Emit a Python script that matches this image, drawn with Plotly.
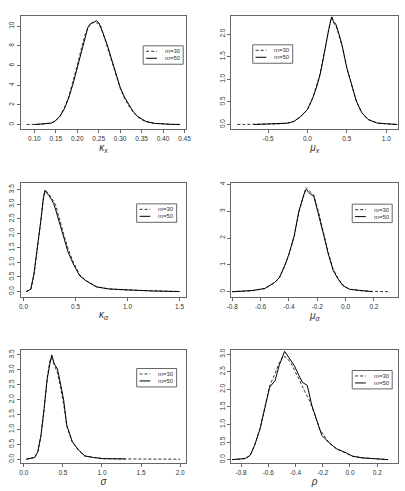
import plotly.graph_objects as go

W, H = 405, 491

# ---------------- data ----------------
labels = ["m=30", "m=50"]

x1_50 = [0.10,0.12,0.14,0.15,0.16,0.17,0.18,0.19,0.20,0.21,0.22,0.225,0.23,0.24,0.245,0.25,0.255,0.26,0.27,0.28,0.29,0.30,0.31,0.32,0.33,0.34,0.35,0.36,0.38,0.40,0.42,0.44]
y1_50 = [0.0,0.04,0.15,0.4,0.85,1.6,2.7,4.1,5.8,7.6,9.2,9.9,10.2,10.4,10.55,10.35,9.9,9.3,8.1,6.6,5.1,3.8,2.8,2.0,1.35,0.85,0.55,0.32,0.12,0.05,0.02,0.01]
x1_30 = [0.082,0.10,0.12,0.14,0.15,0.16,0.17,0.18,0.19,0.20,0.21,0.22,0.23,0.235,0.24,0.245,0.25,0.255,0.26,0.27,0.28,0.29,0.30,0.31,0.32,0.33,0.34,0.35,0.36,0.38,0.40,0.42,0.44]
y1_30 = [0.0,0.01,0.05,0.17,0.42,0.9,1.7,2.8,4.3,6.0,7.8,9.4,10.2,10.4,10.35,10.3,10.3,10.0,9.3,8.0,6.5,5.0,3.7,2.7,1.9,1.3,0.8,0.5,0.3,0.12,0.05,0.02,0.01]

x2_50 = [-0.68,-0.5,-0.35,-0.25,-0.17,-0.09,0.0,0.07,0.12,0.16,0.2,0.24,0.27,0.30,0.31,0.33,0.36,0.40,0.44,0.50,0.56,0.62,0.69,0.77,0.89,1.0,1.14]
y2_50 = [0.0,0.01,0.015,0.03,0.07,0.17,0.33,0.6,0.85,1.1,1.45,1.85,2.1,2.33,2.38,2.28,2.22,2.0,1.75,1.25,0.86,0.52,0.26,0.11,0.03,0.01,0.0]
x2_30 = [-0.89,-0.7,-0.5,-0.35,-0.25,-0.17,-0.09,0.0,0.07,0.12,0.16,0.2,0.24,0.27,0.29,0.30,0.32,0.34,0.37,0.40,0.44,0.50,0.56,0.62,0.69,0.77,0.89,1.0,1.14]
y2_30 = [0.0,0.0,0.01,0.015,0.03,0.07,0.17,0.33,0.6,0.86,1.12,1.47,1.86,2.15,2.32,2.36,2.30,2.22,2.15,1.98,1.73,1.25,0.86,0.52,0.26,0.11,0.03,0.01,0.0]

x3_50 = [0.025,0.07,0.10,0.134,0.166,0.19,0.206,0.22,0.244,0.27,0.29,0.31,0.34,0.384,0.43,0.48,0.54,0.60,0.70,0.82,1.0,1.23,1.5]
y3_50 = [0.0,0.08,0.6,1.5,2.43,3.2,3.48,3.4,3.3,3.15,3.02,2.8,2.43,1.85,1.34,0.94,0.54,0.37,0.16,0.09,0.05,0.02,0.0]
x3_30 = x3_50
y3_30 = [0.0,0.07,0.55,1.45,2.4,3.15,3.42,3.45,3.35,3.2,3.1,2.95,2.6,2.0,1.45,1.0,0.58,0.38,0.17,0.09,0.05,0.02,0.0]

x4_50 = [-0.8,-0.66,-0.57,-0.50,-0.467,-0.43,-0.40,-0.363,-0.33,-0.294,-0.278,-0.26,-0.248,-0.225,-0.19,-0.156,-0.122,-0.087,-0.053,-0.018,0.028,0.097,0.19]
y4_50 = [0.0,0.04,0.12,0.35,0.53,0.97,1.4,2.08,3.0,3.63,3.81,3.7,3.63,3.57,2.89,2.14,1.4,0.78,0.47,0.22,0.09,0.04,0.0]
x4_30 = [-0.8,-0.66,-0.57,-0.50,-0.467,-0.43,-0.40,-0.363,-0.33,-0.294,-0.28,-0.265,-0.25,-0.225,-0.19,-0.156,-0.122,-0.087,-0.06,-0.03,0.0,0.028,0.097,0.19,0.31]
y4_30 = [0.0,0.04,0.12,0.34,0.52,0.95,1.38,2.05,2.95,3.6,3.88,3.8,3.72,3.6,2.95,2.2,1.45,0.82,0.55,0.3,0.18,0.09,0.04,0.01,0.0]

x5_50 = [0.033,0.14,0.18,0.22,0.26,0.30,0.333,0.358,0.39,0.43,0.47,0.51,0.55,0.62,0.70,0.78,0.89,1.01,1.30]
y5_50 = [0.0,0.06,0.26,0.81,1.7,2.7,3.2,3.5,3.2,3.03,2.53,1.98,1.14,0.59,0.31,0.11,0.06,0.02,0.01]
x5_30 = [0.03,0.14,0.18,0.22,0.26,0.30,0.333,0.35,0.37,0.40,0.43,0.47,0.51,0.55,0.62,0.70,0.78,0.89,1.01,1.3,1.6,2.0]
y5_30 = [0.0,0.06,0.25,0.8,1.7,2.75,3.3,3.4,3.3,3.1,2.9,2.4,1.85,1.1,0.58,0.3,0.11,0.06,0.02,0.01,0.0,0.0]

x6_50 = [-0.865,-0.77,-0.733,-0.70,-0.66,-0.625,-0.59,-0.55,-0.52,-0.48,-0.446,-0.41,-0.374,-0.35,-0.314,-0.28,-0.24,-0.207,-0.159,-0.10,-0.027,0.02,0.09,0.21,0.28]
y6_50 = [0.0,0.03,0.12,0.41,0.88,1.45,2.06,2.25,2.68,3.08,2.87,2.68,2.39,2.2,2.11,1.54,1.07,0.69,0.5,0.31,0.19,0.095,0.05,0.02,0.0]
x6_30 = [-0.865,-0.77,-0.733,-0.70,-0.66,-0.625,-0.59,-0.55,-0.52,-0.49,-0.46,-0.43,-0.40,-0.37,-0.34,-0.30,-0.26,-0.22,-0.18,-0.159,-0.10,-0.027,0.02,0.09,0.21,0.28]
y6_30 = [0.0,0.03,0.12,0.42,0.9,1.5,2.1,2.45,2.75,2.95,2.88,2.72,2.5,2.25,2.0,1.7,1.3,0.85,0.62,0.5,0.31,0.19,0.095,0.05,0.02,0.0]

x_titles = ["<i>κ<sub>x</sub></i>", "<i>μ<sub>x</sub></i>", "<i>κ<sub>α</sub></i>",
            "<i>μ<sub>α</sub></i>", "<i>σ</i>", "<i>ρ</i>"]

xtick_vals = [
    [0.10,0.15,0.20,0.25,0.30,0.35,0.40,0.45],
    [-0.5,0.0,0.5,1.0],
    [0.0,0.5,1.0,1.5],
    [-0.8,-0.6,-0.4,-0.2,0.0,0.2],
    [0.0,0.5,1.0,1.5,2.0],
    [-0.8,-0.6,-0.4,-0.2,0.0,0.2],
]
xtick_text = [
    ["0.10","0.15","0.20","0.25","0.30","0.35","0.40","0.45"],
    ["-0.5","0.0","0.5","1.0"],
    ["0.0","0.5","1.0","1.5"],
    ["-0.8","-0.6","-0.4","-0.2","0.0","0.2"],
    ["0.0","0.5","1.0","1.5","2.0"],
    ["-0.8","-0.6","-0.4","-0.2","0.0","0.2"],
]
ytick_vals = [
    [0,2,4,6,8,10],
    [0.0,0.5,1.0,1.5,2.0],
    [0.0,0.5,1.0,1.5,2.0,2.5,3.0,3.5],
    [0,1,2,3,4],
    [0.0,0.5,1.0,1.5,2.0,2.5,3.0,3.5],
    [0.0,0.5,1.0,1.5,2.0,2.5,3.0],
]
ytick_text = [
    ["0","2","4","6","8","10"],
    ["0.0","0.5","1.0","1.5","2.0"],
    ["0.0","0.5","1.0","1.5","2.0","2.5","3.0","3.5"],
    ["0","1","2","3","4"],
    ["0.0","0.5","1.0","1.5","2.0","2.5","3.0","3.5"],
    ["0.0","0.5","1.0","1.5","2.0","2.5","3.0"],
]

series30 = [(x1_30,y1_30),(x2_30,y2_30),(x3_30,y3_30),(x4_30,y4_30),(x5_30,y5_30),(x6_30,y6_30)]
series50 = [(x1_50,y1_50),(x2_50,y2_50),(x3_50,y3_50),(x4_50,y4_50),(x5_50,y5_50),(x6_50,y6_50)]

# ---------------- layout geometry (pixels) ----------------
panel_px = [  # x0, x1, y0(top), y1(bottom)
    (16, 186, 14, 128), (232, 403, 14, 128),
    (16, 186, 182, 296), (232, 403, 182, 296),
    (16, 186, 349, 463), (232, 403, 349, 463),
]
xranges = [[0.068,0.4545],[-0.967,1.15],[-0.028,1.566],[-0.807,0.370],[-0.041,2.08],[-0.872,0.353]]
yranges = [[-0.5,11.04],[-0.11,2.40],[-0.18,3.72],[-0.19,4.04],[-0.13,3.68],[-0.10,3.13]]
legend_px = [(141.7,44),(254,43),(135,202.7),(356,203),(135,368),(356,370)]

FONT = "Liberation Sans, Arial, Helvetica, sans-serif"
BOX = "#666666"

fig = go.Figure()
layout = dict(
    width=W, height=H, margin=dict(l=0, r=0, t=0, b=0),
    paper_bgcolor="white", plot_bgcolor="white", showlegend=False,
    font=dict(family=FONT, color="#222"),
)
shapes, annotations = [], []

for i in range(6):
    k = "" if i == 0 else str(i + 1)
    x0, x1, y0, y1 = panel_px[i]
    xa = dict(
        domain=[x0 / W, x1 / W], anchor="y" + k, range=xranges[i],
        showline=True, mirror=True, linecolor=BOX, linewidth=1,
        ticks="outside", ticklen=3, tickwidth=1, tickcolor=BOX,
        tickvals=xtick_vals[i], ticktext=xtick_text[i],
        tickfont=dict(size=6.5, color="#333"),
        showgrid=False, zeroline=False,
        title=dict(text=x_titles[i], font=dict(size=10, color="#333"), standoff=2),
    )
    ya = dict(
        domain=[1 - y1 / H, 1 - y0 / H], anchor="x" + k, range=yranges[i],
        showline=True, mirror=True, linecolor=BOX, linewidth=1,
        ticks="outside", ticklen=3, tickwidth=1, tickcolor=BOX,
        tickvals=ytick_vals[i], ticktext=ytick_text[i], tickangle=-90,
        tickfont=dict(size=6.5, color="#333"),
        showgrid=False, zeroline=False,
    )
    layout["xaxis" + k] = xa
    layout["yaxis" + k] = ya

    xs, ys = series30[i]
    fig.add_trace(go.Scatter(x=xs, y=ys, mode="lines", name=labels[0],
                             xaxis="x" + k, yaxis="y" + k,
                             line=dict(color="#333333", width=1, dash="3px,2px")))
    xs, ys = series50[i]
    fig.add_trace(go.Scatter(x=xs, y=ys, mode="lines", name=labels[1],
                             xaxis="x" + k, yaxis="y" + k,
                             line=dict(color="black", width=1)))

    # legend box
    lx, ly = legend_px[i]
    lw, lh = 41, 18.5
    shapes.append(dict(type="rect", xref="paper", yref="paper",
                       x0=lx / W, x1=(lx + lw) / W, y0=1 - (ly + lh) / H, y1=1 - ly / H,
                       line=dict(color=BOX, width=1), fillcolor="white"))
    for j, (dash, col) in enumerate([("3px,2px", "#333333"), ("solid", "black")]):
        yy = ly + 5.5 + j * 7
        shapes.append(dict(type="line", xref="paper", yref="paper",
                           x0=(lx + 3) / W, x1=(lx + 14) / W, y0=1 - yy / H, y1=1 - yy / H,
                           line=dict(color=col, width=1, dash=dash)))
        annotations.append(dict(xref="paper", yref="paper", x=(lx + 20) / W, y=1 - yy / H,
                                text=labels[j], showarrow=False, xanchor="left", yanchor="middle",
                                font=dict(size=6, color="#333")))

layout["shapes"] = shapes
layout["annotations"] = annotations
fig.update_layout(**layout)
fig.write_html("out.html")
